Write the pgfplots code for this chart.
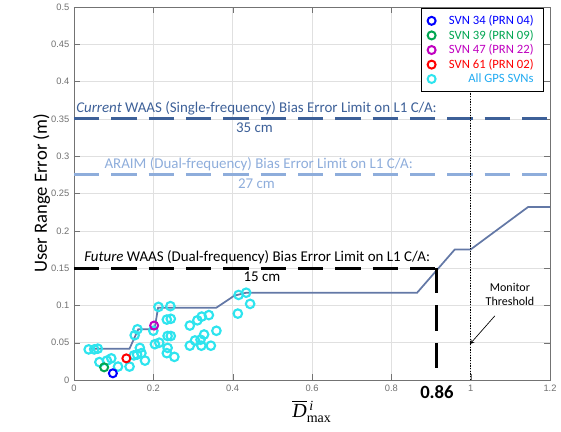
\documentclass[border=0pt]{standalone}
\usepackage{pgfplots}
\pgfplotsset{compat=1.18}
\usepackage{amsmath}
\usepackage{fontspec}
\setmainfont{Carlito}
\newfontfamily\tickfont{Liberation Sans}
\newfontfamily\timesfont{Liberation Serif}
\definecolor{waasdark}{HTML}{3D6098}
\definecolor{araim}{HTML}{8EADDB}
\definecolor{stepline}{HTML}{6378A6}
\definecolor{allsv}{HTML}{2EE4EE}
\definecolor{svgreen}{HTML}{00A651}
\definecolor{svmag}{HTML}{C000C0}
\definecolor{tickgray}{HTML}{707070}

\begin{document}
\begin{tikzpicture}
\useasboundingbox (-55.5pt,-39pt) rectangle (365.25pt,285pt);
\begin{axis}[
  scale only axis,
  width=357pt, height=279.75pt,
  xmin=0, xmax=1.2, ymin=0, ymax=0.5,
  xtick={0,0.2,...,1.2},
  ytick={0,0.05,...,0.5},
  grid=major,
  major grid style={draw=black!12},
  axis line style={draw=black!55},
  tick style={draw=black!55},
  tick align=inside,
  clip=false,
  ticklabel style={font=\tickfont\fontsize{7}{8}\selectfont, text=tickgray},
  /pgf/number format/assume math mode=true,
  /pgf/number format/fixed,
  /pgf/number format/precision=2,
  ylabel={User Range Error (m)},
  ylabel style={font=\fontsize{14}{16}\selectfont, yshift=-6pt},
  xlabel={$\overline{\text{\timesfont\itshape D}}{}^{\,\text{\timesfont\itshape i}}_{\text{\timesfont max}}$},
  xlabel style={font=\fontsize{15}{17}\selectfont, yshift=0pt},
  legend style={at={(0.986,0.997)}, anchor=north east, draw=black, line width=0.6pt,
    font=\fontsize{9.5}{10.5}\selectfont, row sep=-1.5pt, inner xsep=5pt, inner ysep=3pt},
  legend cell align=right,
]
% all GPS SVNs
\addplot[only marks, mark=o, mark size=3.2pt, allsv, mark options={line width=1.6pt}, forget plot] coordinates {
(0.037,0.041) (0.051,0.041) (0.060,0.042) (0.064,0.024) (0.083,0.026) (0.094,0.029)
(0.111,0.018) (0.140,0.018) (0.151,0.033) (0.159,0.034) (0.166,0.043) (0.179,0.026)
(0.153,0.060) (0.160,0.068) (0.200,0.066) (0.213,0.098) (0.243,0.099) (0.234,0.081)
(0.244,0.082) (0.204,0.048) (0.215,0.050) (0.236,0.043) (0.236,0.059) (0.244,0.059)
(0.234,0.036) (0.253,0.031) (0.292,0.073) (0.311,0.080) (0.322,0.085) (0.340,0.087)
(0.359,0.066) (0.292,0.046) (0.305,0.053) (0.319,0.054) (0.328,0.061) (0.321,0.046)
(0.345,0.046) (0.413,0.089) (0.415,0.114) (0.434,0.117) (0.444,0.102) (0.170,0.036)
};
% individual SVNs
\addplot[only marks, mark=o, mark size=3pt, blue, mark options={line width=1.5pt}, forget plot] coordinates {(0.098,0.009)};
\addplot[only marks, mark=o, mark size=3pt, svgreen, mark options={line width=1.5pt}, forget plot] coordinates {(0.076,0.017)};
\addplot[only marks, mark=o, mark size=3pt, svmag, mark options={line width=1.5pt}, forget plot] coordinates {(0.202,0.073)};
\addplot[only marks, mark=o, mark size=3pt, red, mark options={line width=1.5pt}, forget plot] coordinates {(0.132,0.029)};
% bound curve
\addplot[stepline, line width=1.3pt, forget plot] coordinates {
(0.038,0.042) (0.140,0.042) (0.162,0.068) (0.203,0.068) (0.212,0.097) (0.359,0.097)
(0.404,0.113) (0.434,0.117) (0.865,0.117) (0.960,0.175) (1.000,0.175) (1.145,0.232) (1.200,0.232)
};
% limits
\addplot[waasdark, line width=2.2pt, dash pattern=on 19pt off 9pt, forget plot] coordinates {(0,0.35) (1.2,0.35)};
\addplot[araim, line width=2.2pt, dash pattern=on 19pt off 9pt, forget plot] coordinates {(0,0.275) (1.2,0.275)};
\addplot[black, line width=2.2pt, dash pattern=on 19pt off 9pt, forget plot] coordinates {(0,0.15) (0.915,0.15)};
\addplot[black, line width=2.2pt, dash pattern=on 19pt off 9pt, forget plot] coordinates {(0.915,0.15) (0.915,0)};
\addplot[black, line width=1pt, dash pattern=on 1pt off 1pt, forget plot] coordinates {(1,0) (1,0.5)};
% legend
\addlegendimage{only marks, mark=o, mark size=3pt, blue, mark options={line width=1.5pt}}
\addlegendentry{\hspace*{8pt}\textcolor{blue}{SVN 34 (PRN 04)}}
\addlegendimage{only marks, mark=o, mark size=3pt, svgreen, mark options={line width=1.5pt}}
\addlegendentry{\hspace*{8pt}\textcolor{svgreen}{SVN 39 (PRN 09)}}
\addlegendimage{only marks, mark=o, mark size=3pt, svmag, mark options={line width=1.5pt}}
\addlegendentry{\hspace*{8pt}\textcolor{svmag}{SVN 47 (PRN 22)}}
\addlegendimage{only marks, mark=o, mark size=3pt, red, mark options={line width=1.5pt}}
\addlegendentry{\hspace*{8pt}\textcolor{red}{SVN 61 (PRN 02)}}
\addlegendimage{only marks, mark=o, mark size=3pt, allsv, mark options={line width=1.5pt}}
\addlegendentry{\textcolor{allsv!75!blue}{All GPS SVNs}}
% annotations
\node[anchor=south west, waasdark, font=\fontsize{11.2}{12}\selectfont, inner sep=1pt] at (axis cs:0.002,0.353) {\textit{Current} WAAS (Single-frequency) Bias Error Limit on L1 C/A:};
\node[anchor=north, waasdark, font=\fontsize{11.2}{12}\selectfont, inner sep=1pt] at (axis cs:0.455,0.347) {35 cm};
\node[anchor=south west, araim, font=\fontsize{11.2}{12}\selectfont, inner sep=1pt] at (axis cs:0.073,0.278) {ARAIM (Dual-frequency) Bias Error Limit on L1 C/A:};
\node[anchor=north, araim, font=\fontsize{11.2}{12}\selectfont, inner sep=1pt] at (axis cs:0.46,0.272) {27 cm};
\node[anchor=south west, black, font=\fontsize{11.2}{12}\selectfont, inner sep=1pt] at (axis cs:0.022,0.153) {\textit{Future} WAAS (Dual-frequency) Bias Error Limit on L1 C/A:};
\node[anchor=north, black, font=\fontsize{11.2}{12}\selectfont, inner sep=1pt] at (axis cs:0.474,0.147) {15 cm};
\node[font=\bfseries\fontsize{14}{16}\selectfont] at (axis cs:0.915,-0.016) {0.86};
\node[align=center, font=\fontsize{9}{10.5}\selectfont] at (axis cs:1.099,0.115) {Monitor\\Threshold};
\draw[-stealth, black, line width=0.5pt] (axis cs:1.061,0.086) -- (axis cs:0.998,0.048);
\end{axis}
\end{tikzpicture}
\end{document}
